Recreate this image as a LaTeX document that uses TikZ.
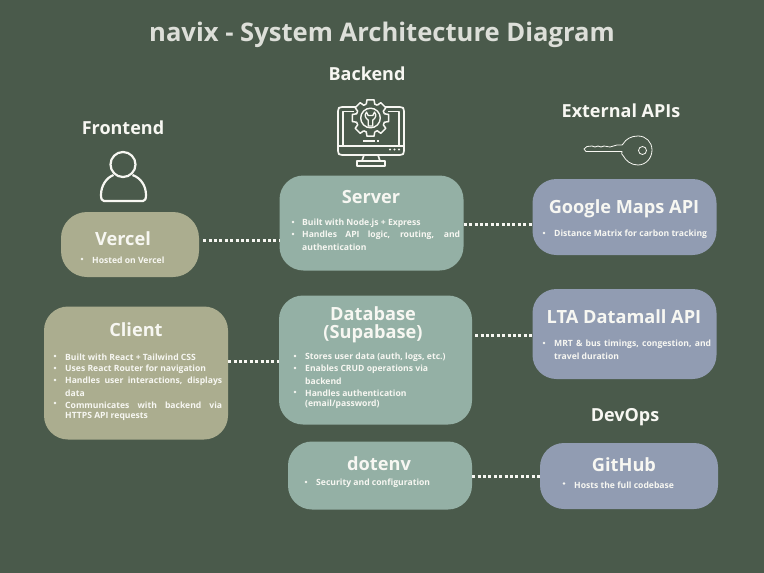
\documentclass[tikz,border=0pt]{standalone}
\usepackage{fontspec}
\setmainfont{Open Sans}[BoldFont={Open Sans Bold}]
\definecolor{bgc}{HTML}{4A5A4B}
\definecolor{sage}{HTML}{ABAD8F}
\definecolor{teal}{HTML}{94B0A5}
\definecolor{slateb}{HTML}{919CB2}
\definecolor{ink}{HTML}{F7F7F2}
\tikzset{
  x=1pt,y=-1pt,
  boxs/.style={fill=#1,draw=none},
  ttl/.style={text=ink,font=\bfseries\fontsize{18.2}{18}\selectfont,align=center,inner sep=0pt},
  head/.style={text=ink,font=\bfseries\fontsize{18}{20}\selectfont,inner sep=0pt},
  itm/.style={text=ink,font=\bfseries\fontsize{8.6}{10}\selectfont,anchor=west,inner sep=0pt,yshift=-0.8pt},
  link/.style={draw=ink,line width=3pt,dash pattern=on 3pt off 2.4pt},
  ico/.style={draw=ink,line width=1.6pt,fill=none,line join=round},
  dotb/.style={circle,fill=ink,inner sep=0pt,minimum size=2.8pt}
}
\newcommand{\ju}[2]{\makebox[#1pt][s]{#2}}
\begin{document}
\begin{tikzpicture}
\useasboundingbox (0,0) rectangle (764,573);
\fill[bgc] (0,0) rectangle (764,573);
% title
\node[text=ink!85!bgc,font=\bfseries\fontsize{25.6}{30}\selectfont,inner sep=0pt] (title) at (382,35) {navix - System Architecture Diagram};
\node[head] (hfront) at (123,128) {Frontend};
\node[head] (hback) at (367,74) {Backend};
\node[head] (hext) at (621,111) {External APIs};
\node[head] (hdev) at (625,417) {DevOps};
% boxes
\node[boxs=sage,minimum width=138pt,minimum height=65pt,rounded corners=26pt] (vercel) at (130,244.5) {};
\node[boxs=sage,minimum width=184pt,minimum height=133pt,rounded corners=24pt] (client) at (136,373) {};
\node[boxs=teal,minimum width=184pt,minimum height=95pt,rounded corners=24pt] (server) at (371.5,223) {};
\node[boxs=teal,minimum width=193pt,minimum height=129pt,rounded corners=24pt] (db) at (375.5,360) {};
\node[boxs=teal,minimum width=184pt,minimum height=68pt,rounded corners=24pt] (dotenv) at (380,475.5) {};
\node[boxs=slateb,minimum width=184pt,minimum height=76pt,rounded corners=24pt] (gmaps) at (624.5,217) {};
\node[boxs=slateb,minimum width=184pt,minimum height=90pt,rounded corners=24pt] (lta) at (624.5,334) {};
\node[boxs=slateb,minimum width=178pt,minimum height=66pt,rounded corners=24pt] (github) at (629,476) {};
% connectors
\coordinate (la) at (0,240);
\coordinate (lb) at (0,361.5);
\coordinate (lc) at (0,224.5);
\coordinate (ld) at (0,335.5);
\coordinate (le) at (0,476);
\draw[link] ([xshift=4pt]vercel.east|-la) -- (server.west|-la);
\draw[link] (client.east|-lb) -- (db.west|-lb);
\draw[link] (server.east|-lc) -- (gmaps.west|-lc);
\draw[link] ([xshift=3pt]db.east|-ld) -- (lta.west|-ld);
\draw[link] (dotenv.east|-le) -- (github.west|-le);
% box titles
\node[ttl] (tv) at (123,239) {Vercel};
\node[ttl] (tc) at (136,330) {Client};
\node[ttl] (ts) at (371,197) {Server};
\node[ttl] (td) at (373,325) {Database\\(Supabase)};
\node[ttl] (te) at (379,464) {dotenv};
\node[ttl] (tg) at (624,209) {Google Maps API};
\node[ttl] (tl) at (624,317) {LTA Datamall API};
\node[ttl] (th) at (624,465) {GitHub};
% items
\node[dotb] at (82,259) {}; \node[itm] at (92,259.5) {Hosted on Vercel};
\node[dotb] at (293,222) {}; \node[itm] at (302,222.5) {Built with Node.js + Express};
\node[dotb] at (293,234) {}; \node[itm] at (302,234) {\ju{158}{Handles API logic, routing, and}};
\node[itm] at (302,246) {authentication};
\node[dotb] at (55,356) {}; \node[itm] at (65,356.5) {Built with React + Tailwind CSS};
\node[dotb] at (55,368) {}; \node[itm] at (65,368.5) {Uses React Router for navigation};
\node[dotb] at (55,380) {}; \node[itm] at (65,380) {\ju{157}{Handles user interactions, displays}};
\node[itm] at (65,392) {data};
\node[dotb] at (55,403) {}; \node[itm] at (65,404) {\ju{157}{Communicates with backend via}};
\node[itm] at (65,415.5) {HTTPS API requests};
\node[dotb] at (295,356) {}; \node[itm] at (305,356.5) {Stores user data (auth, logs, etc.)};
\node[dotb] at (295,368) {}; \node[itm] at (305,368) {Enables CRUD operations via};
\node[itm] at (305,380) {backend};
\node[dotb] at (295,392) {}; \node[itm] at (305,392) {Handles authentication};
\node[itm] at (305,403.5) {(email/password)};
\node[dotb] at (306,482) {}; \node[itm] at (316,482) {Security and configuration};
\node[dotb] at (544,233) {}; \node[itm] at (554,233.5) {Distance Matrix for carbon tracking};
\node[dotb] at (544,343) {}; \node[itm] at (554,343) {\ju{157}{MRT \& bus timings, congestion, and}};
\node[itm] at (554,355) {travel duration};
\node[dotb] at (564,483.5) {}; \node[itm] at (574,484) {Hosts the full codebase};
% person icon
\draw[ico,line width=2.2pt] (123,164.5) circle (12.5);
\draw[ico,line width=2.2pt] (113.5,175) .. controls (106,178) and (101,186) .. (101,195) .. controls (101,199) and (102,201) .. (104,201) -- (143,201) .. controls (145,201) and (146,199) .. (146,195) .. controls (146,186) and (141,178) .. (132.5,175);
% key icon
\draw[ico,line width=.8pt] (622,145) -- (617,145) -- (610,147) -- (604,146) -- (601,147) -- (598,146) -- (595,147) -- (592,146) -- (587,146.5) -- (584,149) -- (586,151.5) -- (622,151.5) .. controls (622,153) and (621,155) .. (623,155.5) .. controls (626,161) and (631,165) .. (638,165) .. controls (646,165) and (652,158) .. (652,150) .. controls (652,142) and (646,136) .. (638,136) .. controls (631,136) and (626,139) .. (623,144) -- cycle;
\draw[ico,line width=.8pt] (642.5,150.5) circle (4);
% monitor icon
\draw[ico,line width=1.7pt] (356,107) -- (342,107) .. controls (339,107) and (338,108) .. (338,111) -- (338,151) .. controls (338,154) and (339,155) .. (342,155) -- (400,155) .. controls (403,155) and (404,154) .. (404,151) -- (404,111) .. controls (404,108) and (403,107) .. (400,107) -- (385,107);
\draw[ico,line width=1.4pt] (338,146) -- (404,146);
\draw[ico,line width=1.4pt] (354,111.5) -- (343,111.5) -- (343,146);
\draw[ico,line width=1.4pt] (388,111.5) -- (399,111.5) -- (399,146);
\draw[ico,line width=1.7pt] (364,155) -- (362,161) -- (380,161) -- (378,155);
\draw[ico,line width=1.7pt] (357,166) -- (385,166) -- (385,161) -- (357,161) -- cycle;
\draw[ico,line width=1.4pt] (363,141) -- (375,141);
\draw[ico,line width=1.4pt] (377,141) -- (379,141);
\foreach \xx in {390,394.5,399} \fill[ink] (\xx,149.5) circle (1.1);
% gear
\begin{scope}[shift={(370.5,118)}]
\foreach \a in {0,45,...,315} {
  \draw[ico,line width=1.5pt] (\a-17:14.5) -- (\a-11:18.5) -- (\a+11:18.5) -- (\a+17:14.5) -- (\a+28:14.5);
}
\draw[ico,line width=1.4pt] (0,0) circle (9.8);
\draw[ico,line width=1.3pt] (-4,-6) .. controls (-6.5,-3) and (-5,0.5) .. (-2.3,2) -- (-2.3,8) -- (2.3,8) -- (2.3,2) .. controls (5,0.5) and (6.5,-3) .. (4,-6) -- (2.3,-2.5) -- (-2.3,-2.5) -- cycle;
\end{scope}
\end{tikzpicture}
\end{document}
